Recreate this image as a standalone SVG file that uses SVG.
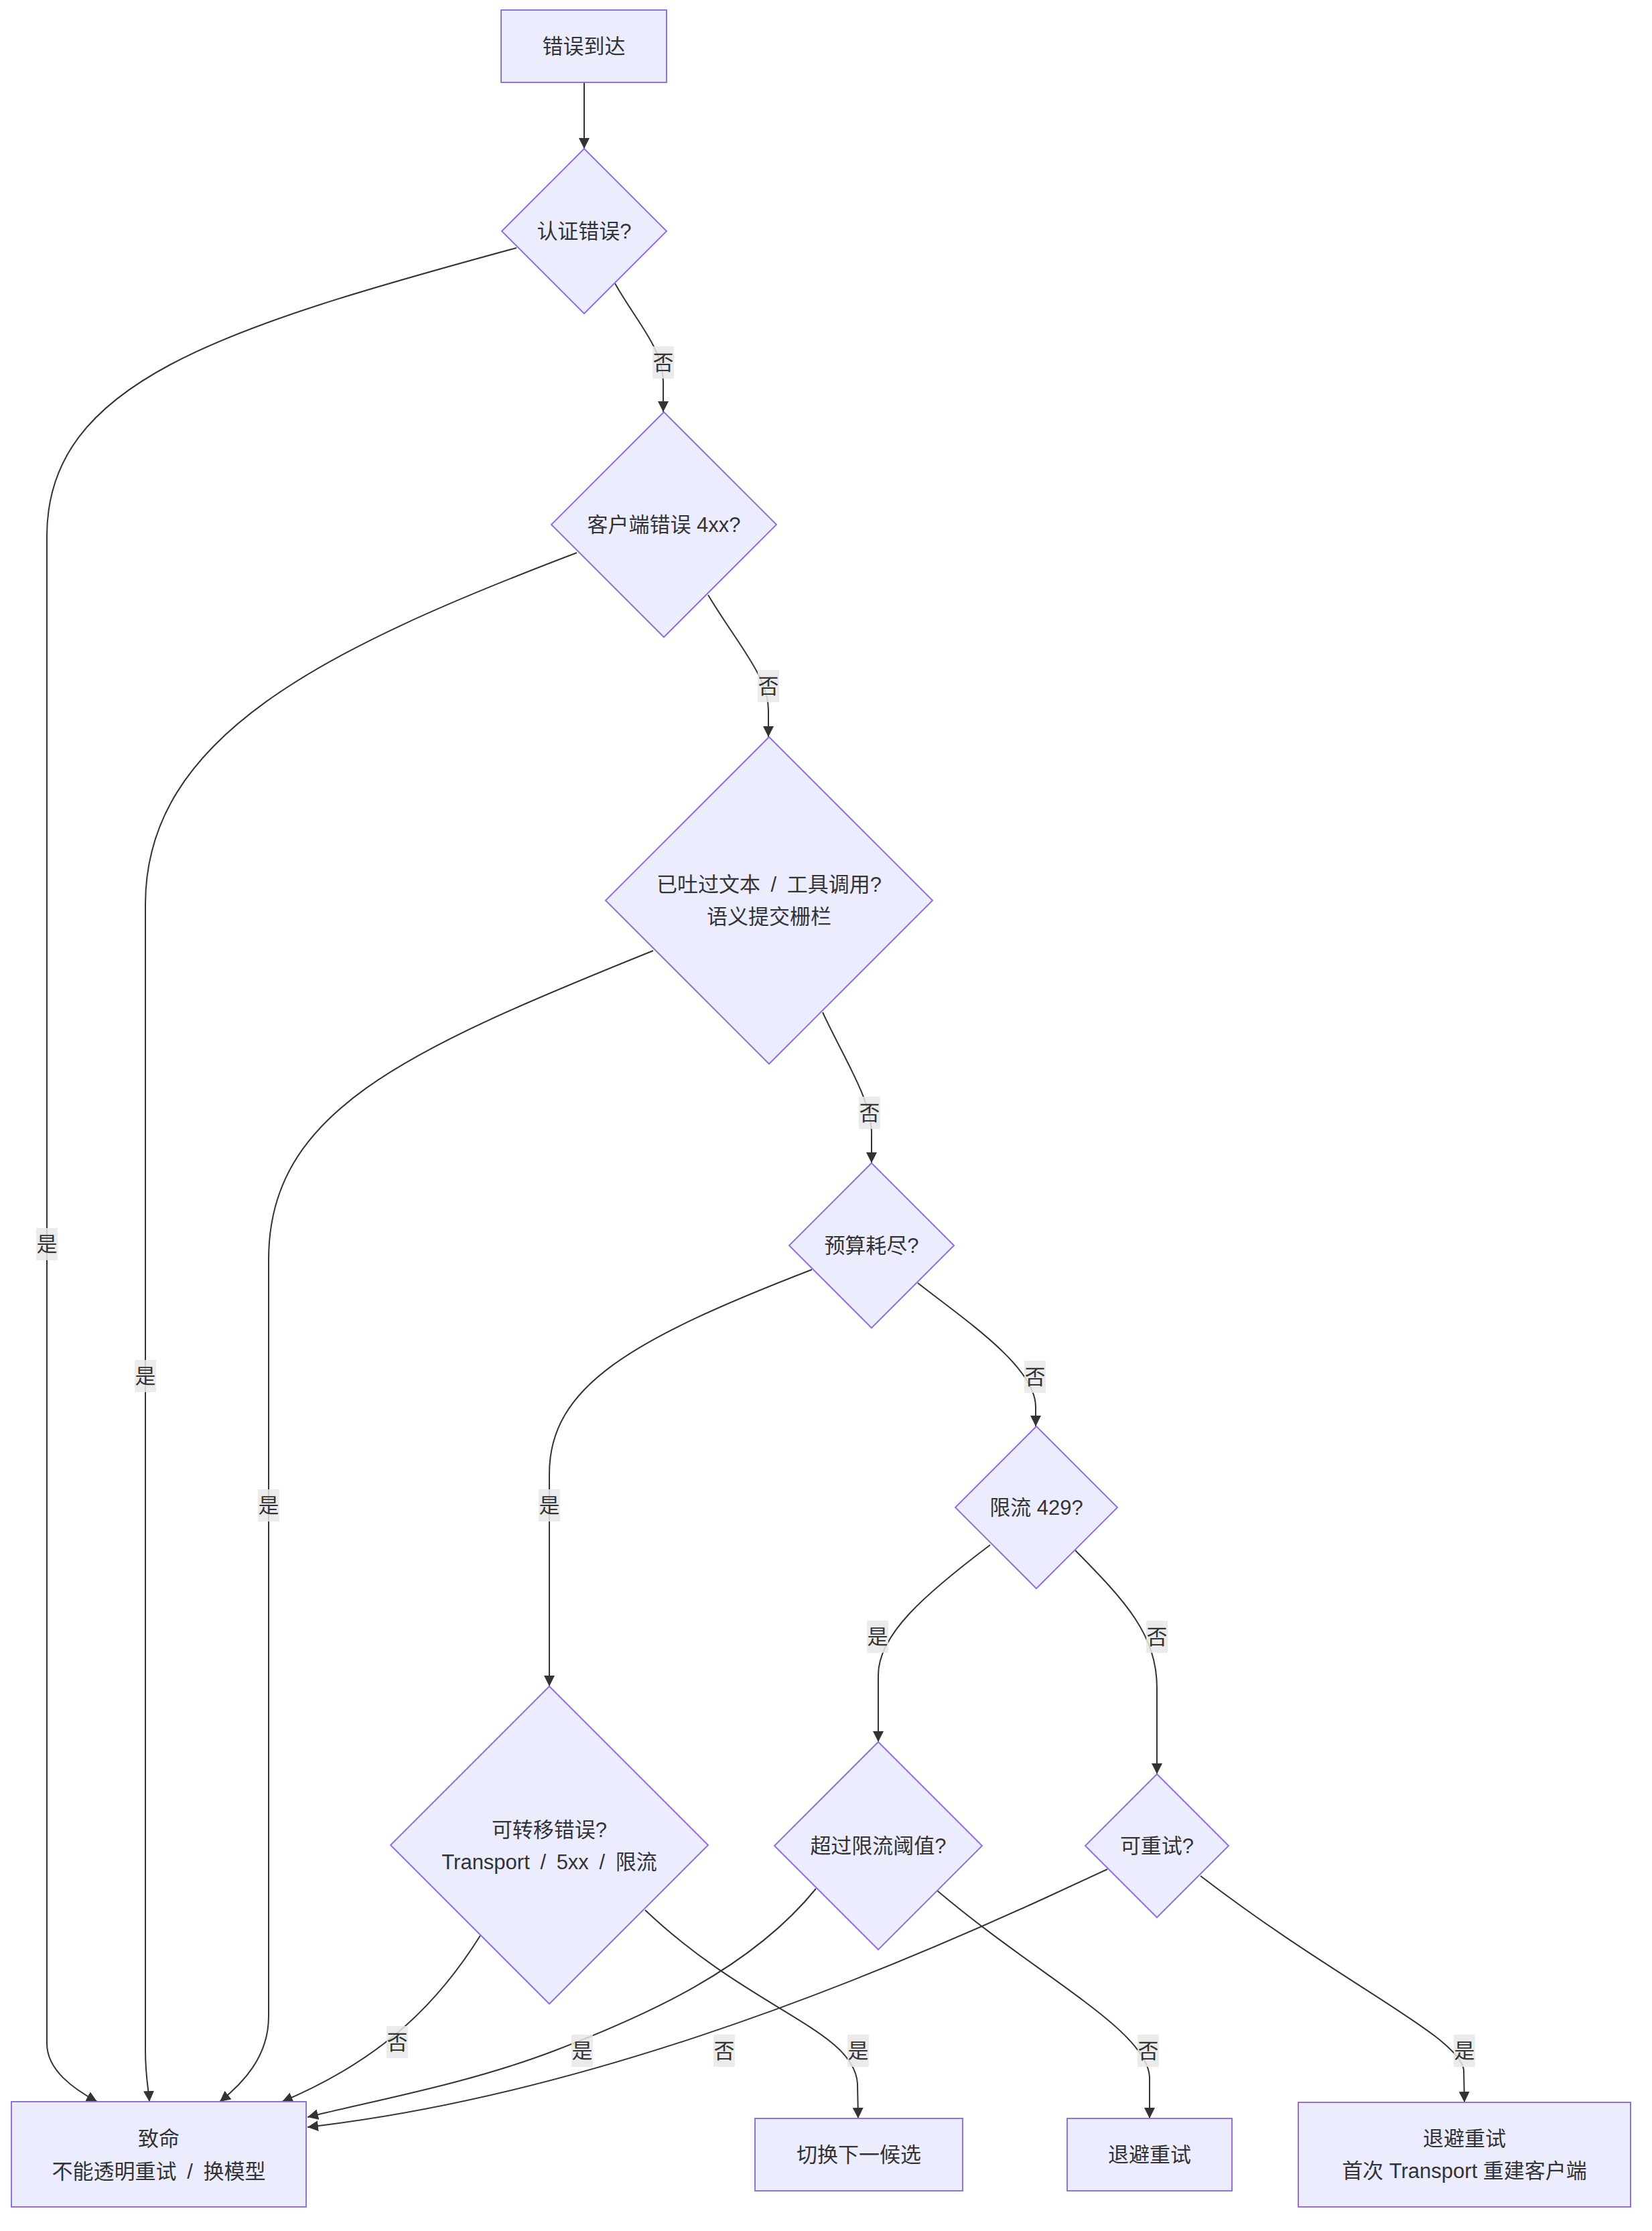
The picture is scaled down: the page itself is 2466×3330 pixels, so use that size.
<svg xmlns="http://www.w3.org/2000/svg" width="2466" height="3330" viewBox="0 0 2466 3330">
<style>
.node rect, .node polygon { fill: #ECECFF; stroke: #9370DB; stroke-width: 2; }
.node text { font-family: "Liberation Sans", "Noto Sans CJK SC", sans-serif; font-size: 31px; fill: #333333; text-anchor: middle; dominant-baseline: central; }
.node text.ws { word-spacing: 7px; }
.edges path { fill: none; stroke: #333333; stroke-width: 2; marker-end: url(#arrow); }
.lbl rect { fill: #e8e8e8; fill-opacity: 0.85; }
.lbl text { font-family: "Liberation Sans", "Noto Sans CJK SC", sans-serif; font-size: 31px; fill: #333333; text-anchor: middle; dominant-baseline: central; }
</style>
<defs>
<marker id="arrow" viewBox="0 0 10 10" refX="10" refY="5" markerUnits="userSpaceOnUse" markerWidth="16" markerHeight="16" orient="auto">
<path d="M0 0 L10 5 L0 10 z" fill="#333333"/>
</marker>
</defs>
<rect width="2466" height="3330" fill="#ffffff"/>
<g id="connectors" class="edges">
<path id="e-A-B" d="M872 123 L872 222"/>
<path id="e-B-J" d="M771 370 C 330 490, 70 570, 70 800 L 70 3050 C 70 3090, 110 3118, 145 3137"/>
<path id="e-B-C" d="M918 423 C 950 480, 990 520, 990 570 L 990 615"/>
<path id="e-C-J" d="M861 825 C 480 970, 217 1100, 217 1350 L 217 3060 C 217 3100, 222 3120, 223 3137"/>
<path id="e-C-D" d="M1057 888 C 1100 960, 1147 1010, 1147 1060 L 1147 1100"/>
<path id="e-D-J" d="M975 1419 C 600 1570, 401 1660, 401 1880 L 401 3010 C 401 3070, 362 3110, 328 3137"/>
<path id="e-D-E" d="M1228 1511 C 1260 1580, 1300 1640, 1301 1690 L 1301 1736"/>
<path id="e-E-G" d="M1212 1895 C 940 2000, 820 2070, 820 2200 L 820 2517"/>
<path id="e-E-F" d="M1370 1915 C 1440 1970, 1546 2040, 1546 2100 L 1546 2129"/>
<path id="e-F-H" d="M1478 2306 C 1380 2380, 1311 2440, 1311 2500 L 1311 2600"/>
<path id="e-F-I" d="M1605 2314 C 1680 2390, 1727 2440, 1727 2520 L 1727 2648"/>
<path id="e-G-J" d="M717 2889 C 660 2980, 580 3070, 421 3137"/>
<path id="e-H-J" d="M1218 2819 C 1120 2940, 960 3010, 830 3060 C 700 3110, 560 3135, 459 3160"/>
<path id="e-I-J" d="M1653 2790 L1560 2833 C 1250 2975, 850 3130, 459 3175"/>
<path id="e-G-K" d="M963 2851 C 1120 3000, 1275 3030, 1280 3110 L 1281 3162"/>
<path id="e-H-L" d="M1399 2822 C 1550 2950, 1712 3030, 1716 3100 L 1716 3162"/>
<path id="e-I-M" d="M1792 2800 C 2000 2960, 2180 3040, 2185 3090 L 2186 3138"/>
</g>
<g id="edge-labels">
<g class="lbl"><rect x="974" y="517" width="32" height="48"/><text x="990" y="541">否</text></g>
<g class="lbl"><rect x="54" y="1833" width="32" height="48"/><text x="70" y="1857">是</text></g>
<g class="lbl"><rect x="201" y="2030" width="32" height="48"/><text x="217" y="2054">是</text></g>
<g class="lbl"><rect x="1131" y="1000" width="32" height="48"/><text x="1147" y="1024">否</text></g>
<g class="lbl"><rect x="385" y="2223" width="32" height="48"/><text x="401" y="2247">是</text></g>
<g class="lbl"><rect x="1282" y="1637" width="32" height="48"/><text x="1298" y="1661">否</text></g>
<g class="lbl"><rect x="804" y="2223" width="32" height="48"/><text x="820" y="2247">是</text></g>
<g class="lbl"><rect x="1529" y="2031" width="32" height="48"/><text x="1545" y="2055">否</text></g>
<g class="lbl"><rect x="1294" y="2419" width="32" height="48"/><text x="1310" y="2443">是</text></g>
<g class="lbl"><rect x="1711" y="2419" width="32" height="48"/><text x="1727" y="2443">否</text></g>
<g class="lbl"><rect x="577" y="3024" width="32" height="48"/><text x="593" y="3048">否</text></g>
<g class="lbl"><rect x="853" y="3037" width="32" height="48"/><text x="869" y="3061">是</text></g>
<g class="lbl"><rect x="1065" y="3037" width="32" height="48"/><text x="1081" y="3061">否</text></g>
<g class="lbl"><rect x="1265" y="3037" width="32" height="48"/><text x="1281" y="3061">是</text></g>
<g class="lbl"><rect x="1698" y="3037" width="32" height="48"/><text x="1714" y="3061">否</text></g>
<g class="lbl"><rect x="2170" y="3037" width="32" height="48"/><text x="2186" y="3061">是</text></g>
</g>
<g id="node-A" class="node"><rect x="748" y="15" width="247" height="108"/><text x="871.5" y="69">错误到达</text></g>
<g id="node-B" class="node"><polygon points="872,222 995,345 872,468 749,345"/><text x="872" y="345">认证错误?</text></g>
<g id="node-C" class="node"><polygon points="991,615 1159,783 991,951 823,783"/><text x="991" y="783">客户端错误 4xx?</text></g>
<g id="node-D" class="node"><polygon points="1148,1100 1392,1344 1148,1588 904,1344"/><text class="ws" x="1148" y="1320">已吐过文本 / 工具调用?</text><text x="1148" y="1368">语义提交栅栏</text></g>
<g id="node-E" class="node"><polygon points="1301,1736 1424,1859 1301,1982 1178,1859"/><text x="1301" y="1859">预算耗尽?</text></g>
<g id="node-F" class="node"><polygon points="1547,2129 1668,2250 1547,2371 1426,2250"/><text x="1547" y="2250">限流 429?</text></g>
<g id="node-G" class="node"><polygon points="820,2517 1057,2754 820,2991 583,2754"/><text x="820" y="2731">可转移错误?</text><text class="ws" x="820" y="2779">Transport / 5xx / 限流</text></g>
<g id="node-H" class="node"><polygon points="1311,2600 1466,2755 1311,2910 1156,2755"/><text x="1311" y="2755">超过限流阈值?</text></g>
<g id="node-I" class="node"><polygon points="1727,2648 1834,2755 1727,2862 1620,2755"/><text x="1727" y="2755">可重试?</text></g>
<g id="node-J" class="node"><rect x="17" y="3137" width="440" height="157"/><text x="237" y="3192">致命</text><text class="ws" x="237" y="3241">不能透明重试 / 换模型</text></g>
<g id="node-K" class="node"><rect x="1127" y="3162" width="310" height="108"/><text x="1282" y="3216">切换下一候选</text></g>
<g id="node-L" class="node"><rect x="1593" y="3162" width="246" height="108"/><text x="1716" y="3216">退避重试</text></g>
<g id="node-M" class="node"><rect x="1938" y="3138" width="496" height="156"/><text x="2186" y="3192">退避重试</text><text x="2186" y="3240">首次 Transport 重建客户端</text></g>
</svg>
